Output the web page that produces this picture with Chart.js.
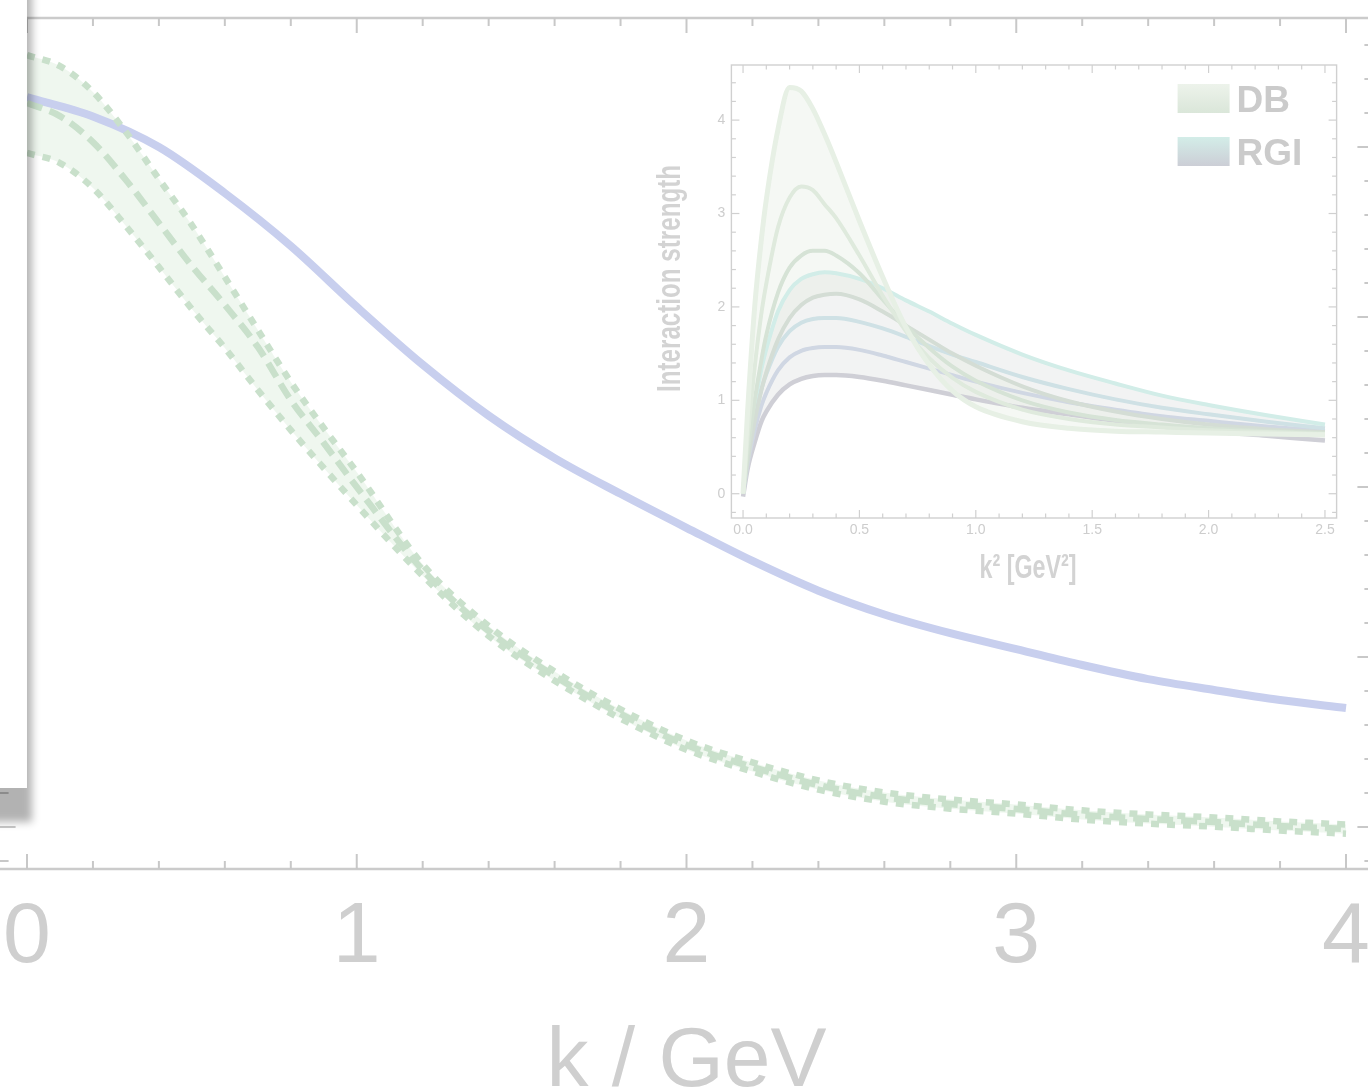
<!DOCTYPE html>
<html><head><meta charset="utf-8">
<script src="https://cdn.jsdelivr.net/npm/chart.js@4.4.1/dist/chart.umd.min.js"></script>
<style>
html,body{margin:0;padding:0;background:#fff;overflow:hidden;width:1368px;height:1090px;}
#main{position:absolute;left:0;top:0;width:1400px;height:1090px;}
#inset{position:absolute;left:600px;top:40px;width:760px;height:570px;}
</style></head><body>
<canvas id="main" width="1400" height="1090"></canvas>
<canvas id="inset" width="760" height="570"></canvas>
<script>
// ---------- main chart data ----------
const kBlue = [0,0.2,0.4,0.6,0.8,1.0,1.2,1.4,1.6,1.8,2.0,2.2,2.4,2.6,2.8,3.0,3.2,3.4,3.6,3.8,4.0];
const blueValues = [4.294,4.18,4.0,3.729,3.418,3.06,2.72,2.42,2.17,1.96,1.76,1.565,1.39,1.25,1.14,1.047,0.953,0.87,0.806,0.747,0.7];
const kGreen = [0,0.1,0.2,0.3,0.4,0.5,0.6,0.7,0.8,0.9,1.0,1.2,1.4,1.6,1.8,2.0,2.2,2.4,2.6,2.8,3.0,3.2,3.4,3.6,3.8,4.0];
const greenUpper = [4.541,4.476,4.324,4.088,3.812,3.541,3.235,2.924,2.618,2.347,2.088,1.545,1.182,0.915,0.692,0.509,0.38,0.274,0.203,0.162,0.133,0.098,0.074,0.056,0.033,0.015];
const greenCentral = [4.259,4.182,4.029,3.806,3.553,3.3,3.071,2.824,2.512,2.259,2.0,1.512,1.153,0.888,0.665,0.482,0.353,0.247,0.176,0.135,0.106,0.071,0.047,0.029,0.006,-0.012];
const greenLower = [3.965,3.906,3.759,3.535,3.294,3.047,2.818,2.571,2.335,2.112,1.894,1.478,1.124,0.861,0.638,0.455,0.326,0.22,0.149,0.108,0.079,0.044,0.02,0.002,-0.021,-0.039];
const xTickValues = [0,1,2,3,4];
const xTickLabels = ['0','1','2','3','4'];
const xAxisTitle = 'k / GeV';

// ---------- inset data ----------
const k2 = [0,0.02,0.05,0.08,0.1,0.15,0.2,0.25,0.3,0.35,0.4,0.5,0.6,0.7,0.8,0.9,1.0,1.2,1.4,1.6,1.8,2.0,2.25,2.5];
const dbA = [0,0.9,2.0,2.75,3.15,3.9,4.35,4.31,4.12,3.85,3.55,2.92,2.32,1.78,1.38,1.1,0.93,0.77,0.70,0.67,0.66,0.65,0.64,0.63];
const dbB = [0,0.6,1.35,1.95,2.25,2.85,3.17,3.29,3.25,3.1,2.95,2.55,2.12,1.74,1.45,1.24,1.09,0.9,0.8,0.74,0.71,0.68,0.66,0.64];
const dbC = [0,0.45,1.0,1.45,1.7,2.15,2.42,2.55,2.6,2.6,2.55,2.36,2.08,1.80,1.56,1.36,1.21,1.0,0.87,0.79,0.74,0.70,0.67,0.65];
const dbE = [0,0.35,0.78,1.12,1.3,1.65,1.88,2.02,2.1,2.13,2.14,2.08,1.95,1.80,1.65,1.5,1.37,1.15,0.99,0.88,0.8,0.74,0.69,0.66];
const rgiD = [0,0.45,0.95,1.35,1.55,1.95,2.18,2.3,2.35,2.37,2.36,2.3,2.2,2.07,1.95,1.82,1.7,1.49,1.32,1.18,1.05,0.95,0.84,0.74];
const rgiF = [0,0.38,0.8,1.13,1.28,1.57,1.74,1.83,1.87,1.88,1.88,1.84,1.77,1.68,1.58,1.49,1.41,1.25,1.12,1.01,0.92,0.85,0.77,0.70];
const rgiG = [0,0.32,0.68,0.95,1.08,1.32,1.46,1.53,1.56,1.57,1.57,1.54,1.48,1.41,1.34,1.27,1.2,1.08,0.98,0.9,0.83,0.78,0.72,0.67];
const rgiH = [-0.03,0.27,0.55,0.78,0.88,1.06,1.17,1.23,1.26,1.27,1.27,1.25,1.21,1.16,1.11,1.06,1.01,0.92,0.85,0.78,0.72,0.67,0.62,0.57];
const insetXTicks = [0,0.5,1,1.5,2,2.5];
const insetXLabels = ['0.0','0.5','1.0','1.5','2.0','2.5'];
const insetYTicks = [0,1,2,3,4];
const insetYLabels = ['0','1','2','3','4'];
const insetXTitle = 'k² [GeV²]';
const insetYTitle = 'Interaction strength';
const legendLabels = ['DB','RGI'];

const pts = (xs, ys) => xs.map((x, i) => ({x, y: ys[i]}));

// ---------- main chart ----------
const mainFrame = {
  id: 'mainFrame',
  afterDatasetsDraw(chart) {
    const {ctx, chartArea: a, scales: {x, y}} = chart;
    ctx.save();
    const seg = (x1, y1, x2, y2) => { ctx.beginPath(); ctx.moveTo(x1, y1); ctx.lineTo(x2, y2); ctx.stroke(); };
    ctx.strokeStyle = '#cbcbcb';
    ctx.lineWidth = 2.5;
    seg(a.left - 2, a.top, a.right + 2, a.top);
    seg(a.left - 2, a.bottom, a.right + 2, a.bottom);
    seg(a.right, a.top, a.right, a.bottom);
    ctx.lineWidth = 2;
    ctx.strokeStyle = '#c8c8c8';
    for (let i = 0; i <= 20; i++) {
      const px = x.getPixelForValue(i * 0.2);
      const len = i % 5 === 0 ? 15 : 8;
      seg(px, a.bottom, px, a.bottom - len);
      seg(px, a.top, px, a.top + len);
    }
    for (let i = -1; i <= 23; i++) {
      const py = y.getPixelForValue(i * 0.2);
      const len = i % 5 === 0 ? 15 : 8;
      seg(a.left - 1, py, a.left + len, py);
      seg(a.right, py, a.right - len, py);
    }
    ctx.restore();
  },
  afterDraw(chart) {
    const {ctx, scales: {x}} = chart;
    const edge = x.getPixelForValue(0);
    ctx.save();
    ctx.shadowColor = 'rgba(0,0,0,0.30)';
    ctx.shadowBlur = 8;
    ctx.shadowOffsetX = 5;
    ctx.shadowOffsetY = 34;
    ctx.fillStyle = '#ffffff';
    ctx.fillRect(-60, -60, edge + 60, 848);
    ctx.restore();
  }
};

new Chart(document.getElementById('main'), {
  type: 'line',
  data: {
    datasets: [
      { label: 'upper', data: pts(kGreen, greenUpper), borderColor: '#c9e0cb', borderWidth: 6.5, borderDash: [8, 8],
        fill: '+2', backgroundColor: 'rgba(214,234,214,0.40)' },
      { label: 'central', data: pts(kGreen, greenCentral), borderColor: '#c9e0cb', borderWidth: 6.5, borderDash: [16, 8], fill: false },
      { label: 'lower', data: pts(kGreen, greenLower), borderColor: '#c9e0cb', borderWidth: 6.5, borderDash: [8, 8], fill: false },
      { label: 'blue', data: pts(kBlue, blueValues), borderColor: '#c8cfee', borderWidth: 8, fill: false }
    ]
  },
  options: {
    responsive: false,
    animation: false,
    devicePixelRatio: 1,
    layout: { padding: { left: 0.6, right: 27.6, top: 18, bottom: 0 } },
    elements: { point: { radius: 0 }, line: { cubicInterpolationMode: 'monotone', borderCapStyle: 'butt' } },
    plugins: { legend: { display: false }, tooltip: { enabled: false }, filler: { drawTime: 'beforeDatasetsDraw' } },
    scales: {
      x: {
        type: 'linear', min: -0.08, max: 4.08,
        afterFit: s => { s.height = 221; s.paddingLeft = 0; s.paddingRight = 0; },
        afterBuildTicks: s => { s.ticks = xTickValues.map(v => ({ value: v })); },
        grid: { display: false, drawTicks: false },
        border: { display: false },
        ticks: {
          autoSkip: false, maxRotation: 0, padding: 26, color: '#cfcfcf',
          font: { family: 'Liberation Sans, Arial, sans-serif', size: 86, lineHeight: 1 },
          callback: (v, i) => xTickLabels[i]
        },
        title: {
          display: true, text: xAxisTitle, color: '#cfcfcf',
          font: { family: 'Liberation Sans, Arial, sans-serif', size: 84, lineHeight: 0.64 },
          padding: { top: 0, bottom: 0 }
        }
      },
      y: {
        type: 'linear', min: -0.247, max: 4.759, display: false
      }
    }
  },
  plugins: [mainFrame]
});

// ---------- inset chart ----------
const insetFrame = {
  id: 'insetFrame',
  afterDatasetsDraw(chart) {
    const {ctx, chartArea: a, scales: {x, y}} = chart;
    ctx.save();
    ctx.strokeStyle = '#d0d0d0';
    ctx.lineWidth = 1.4;
    ctx.strokeRect(a.left, a.top, a.right - a.left, a.bottom - a.top);
    ctx.lineWidth = 1.2;
    const seg = (x1, y1, x2, y2) => { ctx.beginPath(); ctx.moveTo(x1, y1); ctx.lineTo(x2, y2); ctx.stroke(); };
    for (let i = 0; i <= 25; i++) {
      const px = x.getPixelForValue(i * 0.1);
      const len = i % 5 === 0 ? 8 : 4.5;
      seg(px, a.bottom, px, a.bottom - len);
      seg(px, a.top, px, a.top + len);
    }
    for (let i = -1; i <= 22; i++) {
      const py = y.getPixelForValue(i * 0.2);
      const len = i % 5 === 0 ? 8 : 4.5;
      seg(a.left, py, a.left + len, py);
      seg(a.right, py, a.right - len, py);
    }
    ctx.restore();
  },
  afterDraw(chart) {
    const {ctx, chartArea: a} = chart;
    // legend
    const sw = [
      { top: a.top + 19, c1: '#edf3eb', c2: '#dae6d9' },
      { top: a.top + 72, c1: '#d3ede8', c2: '#ccced6' }
    ];
    ctx.save();
    ctx.font = 'bold 37px "Liberation Sans", Arial, sans-serif';
    ctx.textBaseline = 'alphabetic';
    sw.forEach((s, i) => {
      const g = ctx.createLinearGradient(0, s.top, 0, s.top + 29);
      g.addColorStop(0, s.c1); g.addColorStop(1, s.c2);
      ctx.fillStyle = g;
      ctx.fillRect(a.right - 159, s.top, 52, 29);
      ctx.fillStyle = '#cbcbcb';
      ctx.fillText(legendLabels[i], a.right - 100, s.top + 28);
    });
    ctx.restore();
    // condensed axis titles
    const drawCondensed = (text, cx, cy, rot, targetW) => {
      ctx.save();
      ctx.translate(cx, cy);
      ctx.rotate(rot);
      ctx.font = 'bold 33px "Liberation Sans", Arial, sans-serif';
      const w = ctx.measureText(text).width;
      ctx.scale(targetW / w, 1);
      ctx.textAlign = 'center';
      ctx.textBaseline = 'middle';
      ctx.fillStyle = '#d3d3d3';
      ctx.fillText(text, 0, 0);
      ctx.restore();
    };
    drawCondensed(insetYTitle, a.left - 60, (a.top + a.bottom) / 2 - 13, -Math.PI / 2, 227);
    drawCondensed(insetXTitle, (a.left + a.right) / 2 - 6, a.bottom + 51, 0, 97);
  }
};

const lineDs = (label, ys, color, width, extra) => Object.assign({
  label, data: pts(k2, ys), borderColor: color, borderWidth: width, fill: false
}, extra || {});

new Chart(document.getElementById('inset'), {
  type: 'line',
  data: {
    datasets: [
      lineDs('DB1', dbA, '#e7f0e5', 5, { fill: 3, backgroundColor: 'rgba(226,236,224,0.35)' }),
      lineDs('DB2', dbB, '#dfeadd', 4),
      lineDs('DB3', dbC, '#d6e3d6', 4),
      lineDs('DB4', dbE, '#d4ddd5', 4),
      lineDs('RGI1', rgiD, '#d2ede8', 4, { fill: 7, backgroundColor: 'rgba(222,224,224,0.40)' }),
      lineDs('RGI2', rgiF, '#cfe1e5', 4),
      lineDs('RGI3', rgiG, '#d0d7e3', 4),
      lineDs('RGI4', rgiH, '#cfcfd6', 4.5)
    ]
  },
  options: {
    responsive: false,
    animation: false,
    devicePixelRatio: 1,
    layout: { padding: { left: 0, right: 23.4, top: 25, bottom: 0 } },
    elements: { point: { radius: 0 }, line: { cubicInterpolationMode: 'monotone' } },
    plugins: { legend: { display: false }, tooltip: { enabled: false }, filler: { drawTime: 'beforeDatasetsDraw' } },
    scales: {
      x: {
        type: 'linear', min: -0.05, max: 2.55,
        afterFit: s => { s.height = 92; s.paddingLeft = 0; s.paddingRight = 0; },
        afterBuildTicks: s => { s.ticks = insetXTicks.map(v => ({ value: v })); },
        grid: { display: false, drawTicks: false },
        border: { display: false },
        ticks: {
          autoSkip: false, maxRotation: 0, padding: 4, color: '#cdcdcd',
          font: { family: 'Liberation Sans, Arial, sans-serif', size: 14 },
          callback: (v, i) => insetXLabels[i]
        },
        title: { display: false, text: insetXTitle }
      },
      y: {
        type: 'linear', min: -0.26, max: 4.59,
        afterFit: s => { s.width = 131.4; },
        afterBuildTicks: s => { s.ticks = insetYTicks.map(v => ({ value: v })); },
        grid: { display: false, drawTicks: false },
        border: { display: false },
        ticks: {
          autoSkip: false, padding: 6, color: '#cdcdcd',
          font: { family: 'Liberation Sans, Arial, sans-serif', size: 14 },
          callback: (v, i) => insetYLabels[i]
        },
        title: { display: false, text: insetYTitle }
      }
    }
  },
  plugins: [insetFrame]
});
</script>
</body></html>
